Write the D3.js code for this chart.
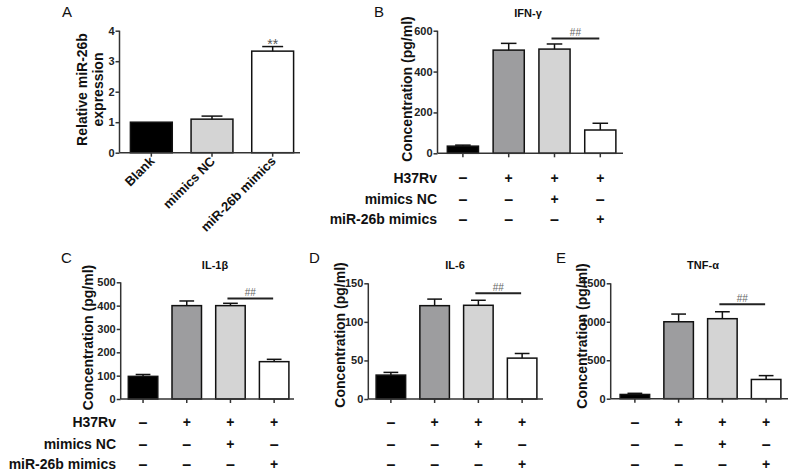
<!DOCTYPE html>
<html><head><meta charset="utf-8">
<script src="https://cdn.jsdelivr.net/npm/d3@7"></script>
<style>
html,body{margin:0;padding:0;background:#fff;}
svg{display:block;font-family:"Liberation Sans",Arial,sans-serif;}
</style></head>
<body><svg id="c" width="793" height="476"></svg>
<script>
// ---- data ----
const groupsA = ["Blank", "mimics NC", "miR-26b mimics"];
const relExpr = [1.0, 1.1, 3.33];
const relErr = [0, 0.1, 0.15];
const ticksA = [0, 1, 2, 3, 4];

const conditions = ["H37Rv", "mimics NC", "miR-26b mimics"];
const condMatrix = [["–", "+", "+", "+"], ["–", "–", "+", "–"], ["–", "–", "–", "+"]];
const groups4 = ["g1", "g2", "g3", "g4"];

const ifng = [35, 505, 510, 114];
const ifngErr = [5, 33, 25, 33];
const ticksB = [0, 200, 400, 600];

const il1b = [97, 400, 400, 160];
const il1bErr = [8, 20, 10, 10];
const ticksC = [0, 100, 200, 300, 400, 500];

const il6 = [31, 121, 121.5, 53];
const il6Err = [3.5, 8.5, 6.5, 6];
const ticksD = [0, 50, 100, 150];

const tnfa = [55, 1000, 1040, 250];
const tnfaErr = [15, 100, 90, 50];
const ticksE = [0, 500, 1000, 1500];

const sigLevels = [562, 431, 137, 1228];

const colors4 = ["#000000", "#9d9d9f", "#d4d4d4", "#ffffff"];
const colorsA = ["#000000", "#d4d4d4", "#ffffff"];

const svg = d3.select("#c");
const AX = "#333";

function panel(o) {
  const g = svg.append("g");
  const x = d3.scaleBand().domain(o.cats).range(o.band).paddingInner(o.pad).paddingOuter(o.pad / 2);
  const y = d3.scaleLinear().domain(o.domain).range([o.y0, o.yTop]);
  g.selectAll("rect.bar").data(o.values).join("rect")
    .attr("x", (d, i) => x(o.cats[i]))
    .attr("y", d => y(d))
    .attr("width", x.bandwidth())
    .attr("height", d => y(0) - y(d))
    .attr("fill", (d, i) => o.colors[i])
    .attr("stroke", "#111").attr("stroke-width", 1.5);
  o.values.forEach((v, i) => {
    if (!o.errs[i]) return;
    const cx = x(o.cats[i]) + x.bandwidth() / 2;
    const cw = x.bandwidth() / 4;
    g.append("line").attr("x1", cx).attr("x2", cx).attr("y1", y(v)).attr("y2", y(v + o.errs[i]))
      .attr("stroke", "#111").attr("stroke-width", 1.5);
    g.append("line").attr("x1", cx - cw).attr("x2", cx + cw).attr("y1", y(v + o.errs[i])).attr("y2", y(v + o.errs[i]))
      .attr("stroke", "#111").attr("stroke-width", 1.5);
  });
  const ya = g.append("g").attr("transform", `translate(${o.axisX},0)`)
    .call(d3.axisLeft(y).tickValues(o.ticks).tickSize(4).tickPadding(1).tickFormat(d3.format("d")));
  ya.select(".domain").attr("stroke", AX).attr("stroke-width", 1.5).attr("d", `M0,${o.y0}V${o.yTop}`);
  ya.selectAll(".tick line").attr("stroke", AX).attr("stroke-width", 1.5);
  ya.selectAll(".tick text").attr("font-size", 11).attr("font-weight", "bold").attr("fill", "#222")
    .attr("font-family", "Liberation Sans, Arial, sans-serif");
  const xa = g.append("g").attr("transform", `translate(0,${o.y0})`)
    .call(d3.axisBottom(x).tickSize(4).tickFormat(""));
  xa.select(".domain").attr("stroke", AX).attr("stroke-width", 1.5).attr("d", `M${o.axisX},0H${o.xEnd}`);
  xa.selectAll(".tick line").attr("stroke", AX).attr("stroke-width", 1.5);
  return { g, x, y };
}

function yLabel(lines, cx, cy) {
  const t = svg.append("text").attr("transform", `translate(${cx},${cy}) rotate(-90)`)
    .attr("text-anchor", "middle").attr("font-size", 14).attr("font-weight", "bold").attr("fill", "#111");
  lines.forEach((l, i) => t.append("tspan").attr("x", 0).attr("dy", i === 0 ? (-(lines.length - 1) * 8.25 + 5) : 16.5).text(l));
}
function letter(s, x, y) {
  svg.append("text").attr("x", x).attr("y", y).attr("font-size", 15).attr("fill", "#111").text(s);
}
function title(s, x, y) {
  svg.append("text").attr("x", x).attr("y", y).attr("text-anchor", "middle").attr("font-size", 11)
    .attr("font-weight", "bold").attr("fill", "#111").text(s);
}
function sig(p, level, txt) {
  const x1 = p.x(groups4[2]) + p.x.bandwidth() / 2 - 3;
  const x2 = p.x(groups4[3]) + p.x.bandwidth() / 2 - 1;
  const yy = p.y(level);
  p.g.append("line").attr("x1", x1).attr("x2", x2).attr("y1", yy).attr("y2", yy)
    .attr("stroke", "#222").attr("stroke-width", 2);
  p.g.append("text").attr("x", (x1 + x2) / 2).attr("y", yy - 2.5).attr("text-anchor", "middle")
    .attr("font-size", 10).attr("fill", "#666").text(txt);
}
function table(p, rowsY, labelX) {
  rowsY.forEach((ry, r) => {
    if (labelX != null) {
      svg.append("text").attr("x", labelX).attr("y", ry).attr("text-anchor", "end")
        .attr("dominant-baseline", "central").attr("font-size", 14).attr("font-weight", "bold")
        .attr("fill", "#111").text(conditions[r]);
    }
    condMatrix[r].forEach((s, c) => {
      svg.append("text").attr("x", p.x(groups4[c]) + p.x.bandwidth() / 2).attr("y", ry)
        .attr("text-anchor", "middle").attr("dominant-baseline", "central")
        .attr("font-size", s === "+" ? 14 : 16).attr("font-weight", "bold").attr("fill", "#111").text(s);
    });
  });
}

// ---- Panel A ----
const pA = panel({ cats: groupsA, values: relExpr, errs: relErr, colors: colorsA, ticks: ticksA,
  domain: [0, 4], y0: 152.7, yTop: 30.7, band: [121, 303], pad: 0.31, axisX: 119.5, xEnd: 300 });
pA.g.append("text").attr("x", pA.x(groupsA[2]) + pA.x.bandwidth() / 2).attr("y", 49)
  .attr("text-anchor", "middle").attr("font-size", 14).attr("fill", "#555").text("**");
groupsA.forEach(gn => {
  const cx = pA.x(gn) + pA.x.bandwidth() / 2 + 4;
  svg.append("text").attr("transform", `translate(${cx},${162}) rotate(-45)`).attr("text-anchor", "end")
    .attr("font-size", 13).attr("font-weight", "bold").attr("fill", "#111").text(gn);
});
yLabel(["Relative miR-26b", "expression"], 90, 89.5);
letter("A", 62, 17);

// ---- Panel B ----
const pB = panel({ cats: groups4, values: ifng, errs: ifngErr, colors: colors4, ticks: ticksB,
  domain: [0, 600], y0: 153.3, yTop: 30.7, band: [440, 623.2], pad: 0.32, axisX: 437.5, xEnd: 623 });
sig(pB, sigLevels[0], "##");
title("IFN-γ", 528, 17);
yLabel(["Concentration (pg/ml)"], 407, 89);
letter("B", 374, 17);
table(pB, [177.7, 199, 219], 437);

// ---- Panel C ----
const pC = panel({ cats: groups4, values: il1b, errs: il1bErr, colors: colors4, ticks: ticksC,
  domain: [0, 500], y0: 399, yTop: 282.3, band: [121.2, 296], pad: 0.325, axisX: 120.7, xEnd: 294 });
sig(pC, sigLevels[1], "##");
title("IL-1β", 215, 269);
yLabel(["Concentration (pg/ml)"], 88, 337.5);
letter("C", 61, 263);
table(pC, [422.3, 444.3, 464.3], 116);

// ---- Panel D ----
const pD = panel({ cats: groups4, values: il6, errs: il6Err, colors: colors4, ticks: ticksD,
  domain: [0, 150], y0: 399, yTop: 283.3, band: [369, 544], pad: 0.325, axisX: 368.3, xEnd: 543 });
sig(pD, sigLevels[2], "##");
title("IL-6", 455, 269);
yLabel(["Concentration (pg/ml)"], 340, 335);
letter("D", 309, 263);
table(pD, [422.3, 444.3, 464.3], null);

// ---- Panel E ----
const pE = panel({ cats: groups4, values: tnfa, errs: tnfaErr, colors: colors4, ticks: ticksE,
  domain: [0, 1500], y0: 398.7, yTop: 283.3, band: [613, 788], pad: 0.325, axisX: 610.7, xEnd: 788 });
sig(pE, sigLevels[3], "##");
title("TNF-α", 703, 269);
yLabel(["Concentration (pg/ml)"], 582, 336);
letter("E", 556, 263);
table(pE, [422.3, 444.3, 464.3], null);
</script></body></html>
